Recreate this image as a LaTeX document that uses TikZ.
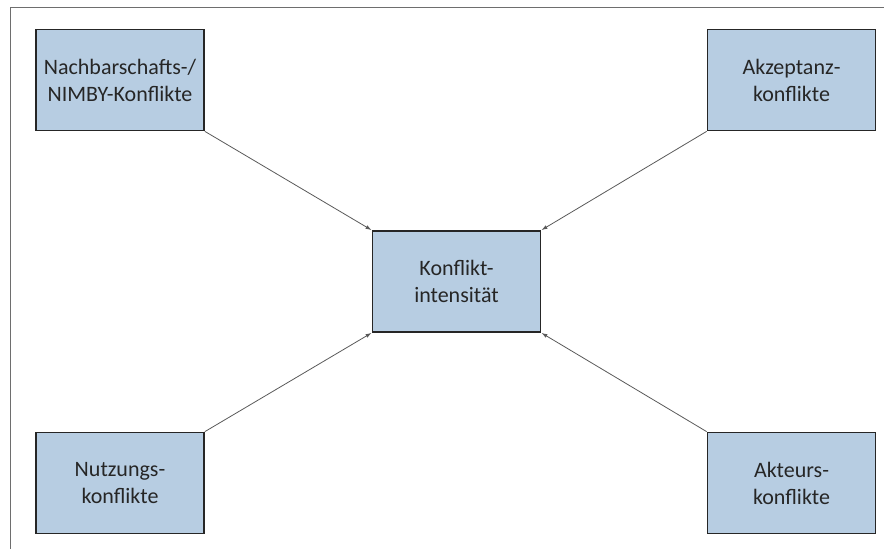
\documentclass[tikz,border=0pt]{standalone}
\usepackage{fontspec}
\setmainfont{Carlito}
\usepackage{tikz}
\usetikzlibrary{positioning,arrows.meta}

\definecolor{boxblue}{RGB}{183,205,226}
\definecolor{framegray}{RGB}{110,110,110}

\begin{document}
\begin{tikzpicture}[
                x=1pt,y=-1pt,
                konflikt/.style={draw=black!85,line width=1.8pt,fill=boxblue,
                    minimum width=168pt,minimum height=101pt,align=center,
                    font=\fontsize{22}{27}\selectfont,text=black!85},
                zeiger/.style={draw=black!65,line width=0.8pt,-{Latex[length=6pt,width=4pt]}}
            ]
                \useasboundingbox (0,0) rectangle (884,549);
                \draw [framegray,line width=1pt] (10,549) -- (10,7) -- (884,7);
                \node [konflikt] (mitte) at (456.5,281.5) {Konflikt-\\intensität};
                \node [konflikt] (nimby) at (120,80) {Nachbarschafts-/\\NIMBY-Konflikte};
                \node [konflikt] (akzeptanz) at (791.5,80) {Akzeptanz-\\konflikte};
                \node [konflikt] (nutzung) at (120,483) {Nutzungs-\\konflikte};
                \node [konflikt] (akteur) at (791.5,483) {Akteurs-\\konflikte};
                % Pfeile von den Ecken zur Mitte
                \draw [zeiger] (nimby.south east) -- (mitte.north west);
                \draw [zeiger] (akzeptanz.south west) -- (mitte.north east);
                \draw [zeiger] (nutzung.north east) -- (mitte.south west);
                \draw [zeiger] (akteur.north west) -- (mitte.south east);
            \end{tikzpicture}
\end{document}
